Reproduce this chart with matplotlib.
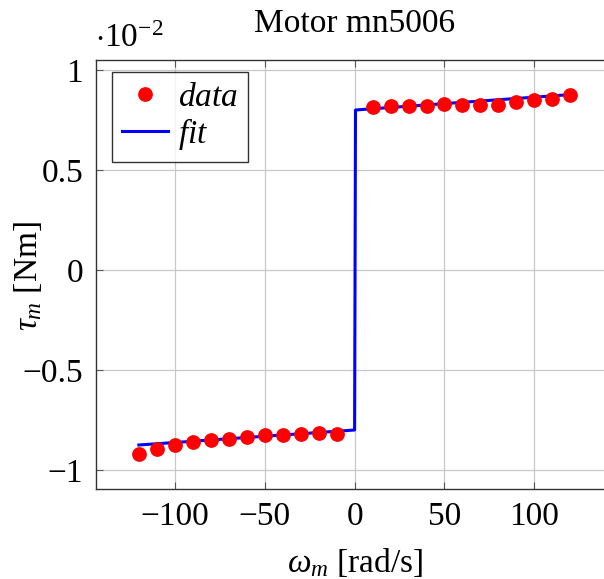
import matplotlib.pyplot as plt
import numpy as np

plt.rcParams["font.family"] = ["Liberation Serif", "DejaVu Serif"]
plt.rcParams["mathtext.fontset"] = "custom"
plt.rcParams["mathtext.rm"] = "Liberation Serif"
plt.rcParams["mathtext.it"] = "Liberation Serif:italic"
plt.rcParams["axes.unicode_minus"] = True

# measured torque, in units of 1e-2 Nm
w_data = [-120, -110, -100, -90, -80, -70, -60, -50, -40, -30, -20, -10,
          10, 20, 30, 40, 50, 60, 70, 80, 90, 100, 110, 120]
tau_data = [-0.92, -0.897, -0.875, -0.858, -0.85, -0.845, -0.837, -0.825,
            -0.827, -0.82, -0.817, -0.818,
            0.817, 0.82, 0.822, 0.822, 0.83, 0.825, 0.823, 0.827, 0.84,
            0.852, 0.855, 0.873]

# fitted friction model (Coulomb + viscous)
w_fit = [-120, 0, 0.5, 120]
tau_fit = [-0.875, -0.8, 0.8, 0.877]

xticks = [-100, -50, 0, 50, 100]
yticks = [-1, -0.5, 0, 0.5, 1]
ytick_labels = ["\u22121", "\u22120.5", "0", "0.5", "1"]
xtick_labels = ["\u2212100", "\u221250", "0", "50", "100"]

fs = 24

fig = plt.figure(figsize=(6.04, 5.79), dpi=100)
ax = fig.add_axes([95.7 / 604, 1 - 489 / 579, (613.5 - 95.7) / 604, (489 - 60) / 579])

ax.plot(w_data, tau_data, "o", color="red", ms=9.6, zorder=3, label="$data$")
ax.plot(w_fit, tau_fit, "-", color="blue", lw=2.2, zorder=2, label="$fit$")

ax.set_xlim(-144, 144)
ax.set_ylim(-1.095, 1.05)
ax.set_xticks(xticks)
ax.set_xticklabels(xtick_labels)
ax.set_yticks(yticks)
ax.set_yticklabels(ytick_labels)
ax.grid(True, color="#c8c8c8", lw=0.9)
ax.set_axisbelow(True)
ax.tick_params(direction="in", length=5, width=0.8, color="#555555",
               labelsize=fs, top=True, right=True, pad=9)
for s in ax.spines.values():
    s.set_color("#333333")
    s.set_linewidth(1.0)

ax.set_xlabel("$\\omega_m$ [rad/s]", fontsize=fs, labelpad=10)
ax.set_ylabel("$\\tau_m$ [Nm]", fontsize=fs)
ax.yaxis.set_label_coords((44 - 95.7) / 517.8, (489 - 276) / 429)
ax.set_title("Motor mn5006", fontsize=fs, pad=20)
fig.text(95 / 604, 1 - 47 / 579, "$\\cdot10^{-2}$", fontsize=fs, ha="left", va="baseline")

leg = ax.legend(loc="upper left", bbox_to_anchor=(16 / 517.8, 1 - 12 / 429),
                fontsize=fs, frameon=True, fancybox=False, borderaxespad=0,
                handlelength=1.4, handletextpad=0.3, borderpad=0.3,
                labelspacing=0.1)
leg.get_frame().set_edgecolor("black")
leg.get_frame().set_linewidth(1.0)

fig.savefig("out.png", dpi=100)
